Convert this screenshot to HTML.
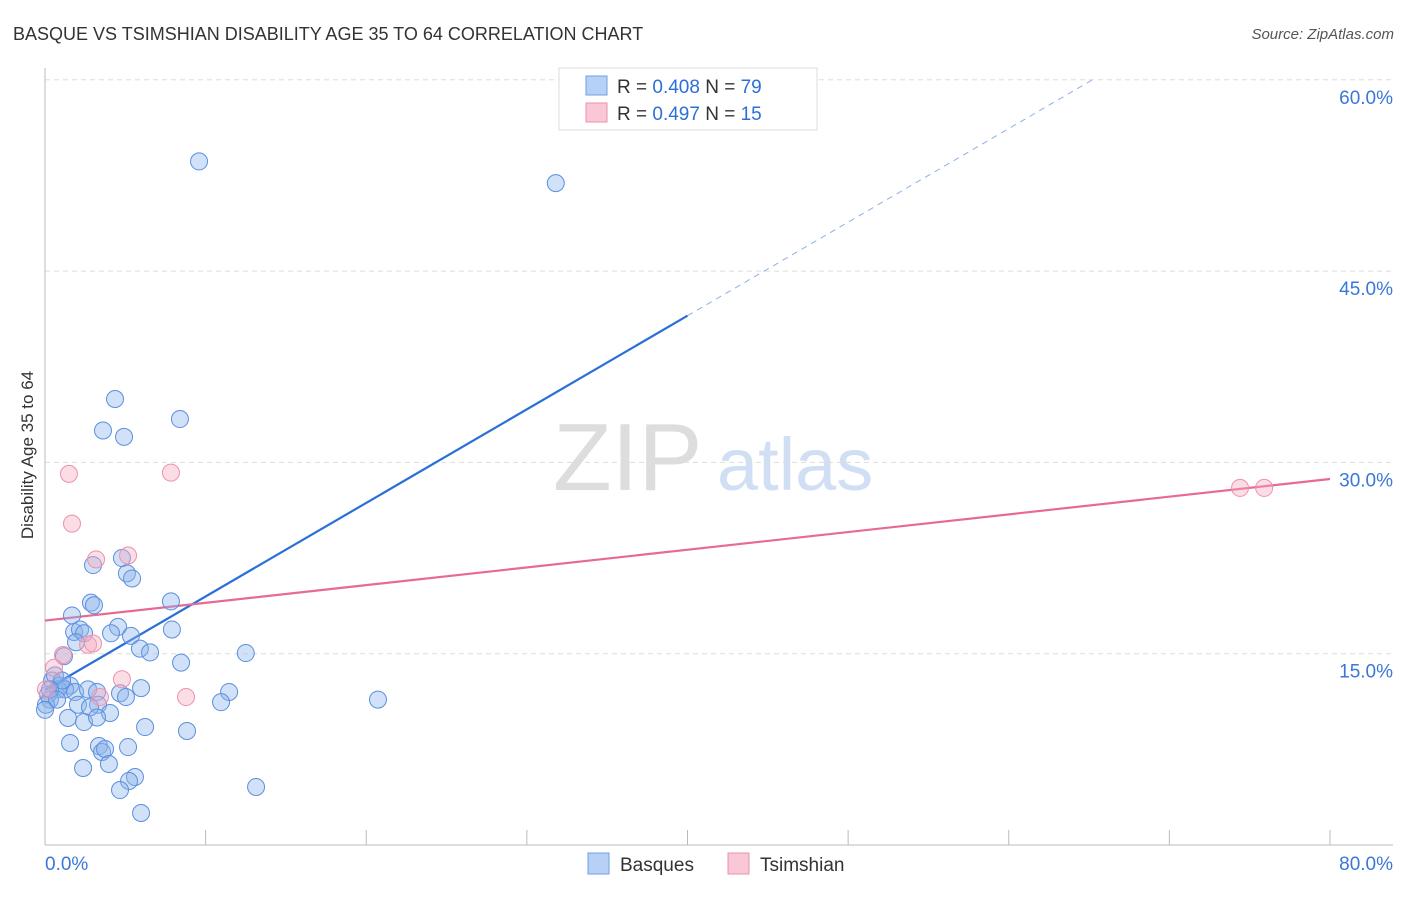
<!DOCTYPE html>
<html><head><meta charset="utf-8"><style>
body{margin:0;background:#fff;font-family:"Liberation Sans",sans-serif;}
svg text{font-family:"Liberation Sans",sans-serif;}
</style></head><body>
<svg id="c" width="1406" height="892">
<text x="13" y="40" font-size="18" fill="#333">BASQUE VS TSIMSHIAN DISABILITY AGE 35 TO 64 CORRELATION CHART</text>
<text x="1394" y="39" font-size="15" fill="#555" font-style="italic" text-anchor="end">Source: ZipAtlas.com</text>
<text x="33" y="455" font-size="17" fill="#333" text-anchor="middle" transform="rotate(-90 33 455)">Disability Age 35 to 64</text>
<g><text x="553" y="490" font-size="96" fill="#ddd" font-family="Liberation Serif,serif">ZIP</text><text x="717" y="490" font-size="74" fill="#d0dff3">atlas</text></g>
<g id="grid"></g><g id="axes"></g><g id="lines"></g><g id="pts"></g>
<g>
<rect x="559" y="68" width="258" height="62" fill="#fff" stroke="#ddd"/>
<rect x="586" y="76" width="21" height="19" fill="#b7d0f5" stroke="#6f9fe4"/>
<text x="617" y="93" font-size="19" fill="#333">R = <tspan fill="#2d6fd6">0.408</tspan>   N = <tspan fill="#2d6fd6">79</tspan></text>
<rect x="586" y="103" width="21" height="19" fill="#f9c7d5" stroke="#ec92ad"/>
<text x="617" y="120" font-size="19" fill="#333">R =  <tspan fill="#2d6fd6">0.497</tspan>   N =  <tspan fill="#2d6fd6">15</tspan></text>
</g>
<g>
<rect x="588" y="853" width="21" height="21" fill="#b7d0f5" stroke="#6f9fe4"/><text x="620" y="871" font-size="19" fill="#333">Basques</text>
<rect x="728" y="853" width="21" height="21" fill="#f9c7d5" stroke="#ec92ad"/><text x="760" y="871" font-size="19" fill="#333">Tsimshian</text>
</g>
</svg>
<script>
const blueX=[9.59,31.8,4.36,8.4,3.61,4.92,4.79,2.99,5.1,5.42,2.86,3.05,7.84,1.68,1.81,2.18,2.43,4.55,4.11,7.9,5.35,1.93,5.91,6.54,12.5,1.18,8.47,0.44,0.93,1.56,0.81,0.19,0.31,0.06,1.25,1.87,2.68,3.24,3.3,5.98,4.67,5.04,11.46,10.96,20.73,2.05,2.8,1.43,2.43,4.05,3.24,6.23,8.84,1.56,3.36,5.17,3.55,3.74,2.37,3.98,5.6,5.23,4.67,13.14,5.98,0.62,1.06,0,0.31,0.75];
const blueY=[53.6,51.9,34.97,33.4,32.5,32.0,22.5,21.95,21.3,20.9,19.0,18.8,19.1,18.0,16.7,16.9,16.6,17.1,16.6,16.9,16.4,15.9,15.4,15.1,15.05,14.8,14.3,12.9,12.5,12.5,12.2,11.8,11.4,11.0,12.2,12.0,12.2,12.0,11.0,12.3,11.9,11.6,12.0,11.2,11.4,11.0,10.8,9.96,9.64,10.35,10.0,9.25,8.94,8.0,7.76,7.68,7.29,7.53,6.04,6.35,5.33,5.02,4.31,4.55,2.51,13.3,12.9,10.6,12.2,11.4];
const pinkX=[1.49,7.84,1.68,3.18,5.17,1.12,2.68,2.99,0.56,4.79,8.78,3.42,74.4,75.9,0.06];
const pinkY=[29.1,29.2,25.2,22.4,22.7,14.9,15.7,15.8,13.9,13.0,11.6,11.6,28.0,28.0,12.2];
const blueFit=[12.15,41.5];// y at x=0 and x=40
const pinkFit=[17.6,28.7];// y at x=0 and x=80
const yTicks=[15,30,45,60];
const xTicks=[0,10,20,30,40,50,60,70,80];
const sx=v=>45+v*1285/80, sy=v=>845-v*191.3/15;
const NS="http://www.w3.org/2000/svg";
function mk(p,t,a){const e=document.createElementNS(NS,t);for(const k in a)e.setAttribute(k,a[k]);document.getElementById(p).appendChild(e);return e;}
yTicks.forEach(t=>{
 const l=mk('grid','line',{x1:45,x2:1393,y1:sy(t),y2:sy(t),stroke:'#ddd','stroke-dasharray':'5,4'});
 
 
 const tx=mk('grid','text',{x:1393,y:sy(t)+24,'font-size':19,fill:'#3a77d9','text-anchor':'end'});tx.textContent=t.toFixed(1)+'%';
 
 
});
mk('axes','line',{x1:45,x2:45,y1:68,y2:845,stroke:'#bbb'});
mk('axes','line',{x1:45,x2:1393,y1:845,y2:845,stroke:'#bbb'});
xTicks.forEach(t=>{
 const l=mk('axes','line',{x1:sx(t),x2:sx(t),y1:830,y2:845,stroke:'#bbb'});
 
 
});
[[0,'start',45],[80,'end',1393]].forEach(([v,a,x])=>{const tx=mk('axes','text',{x:x,y:870,'font-size':19,fill:'#3a77d9','text-anchor':a});tx.textContent=v.toFixed(1)+'%';
 
 });
const bs=(blueFit[1]-blueFit[0])/40;
const xEnd=(60-blueFit[0])/bs;
let l1=mk('lines','line',{x1:sx(0),y1:sy(blueFit[0]),x2:sx(40),y2:sy(blueFit[1]),stroke:'#2a6fd8','stroke-width':2.2});


let l2=mk('lines','line',{x1:sx(40),y1:sy(blueFit[1]),x2:sx(xEnd),y2:sy(60),stroke:'#8fb0e6','stroke-width':1,'stroke-dasharray':'6,5'});


let l3=mk('lines','line',{x1:sx(0),y1:sy(pinkFit[0]),x2:sx(80),y2:sy(pinkFit[1]),stroke:'#e66a93','stroke-width':2.2});


blueX.forEach((x,i)=>{const c=mk('pts','circle',{cx:sx(x),cy:sy(blueY[i]),r:8.5,fill:'rgba(140,180,236,0.4)',stroke:'#5b8fdf','stroke-width':1});
 
 });
pinkX.forEach((x,i)=>{const c=mk('pts','circle',{cx:sx(x),cy:sy(pinkY[i]),r:8.5,fill:'rgba(246,170,192,0.4)',stroke:'#ec92ad','stroke-width':1});
 
 });
</script>
</body></html>
